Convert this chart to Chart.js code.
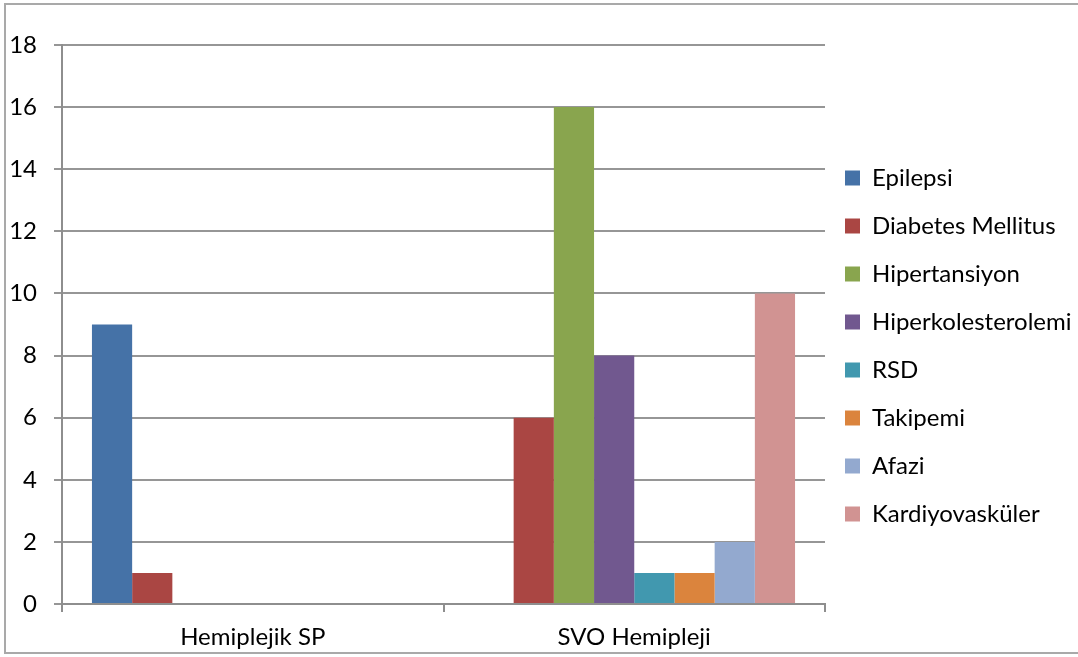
<!DOCTYPE html>
<html>
<head>
<meta charset="utf-8">
<script src="https://cdn.jsdelivr.net/npm/chart.js@4"></script>
<style>
  html, body { margin: 0; padding: 0; background: #fff; overflow: hidden; }
  #wrap { position: relative; width: 1078px; height: 657px; overflow: hidden; background: #fff; }
  #frame { position: absolute; left: 4px; top: 3px; width: 1074px; height: 651px;
           border: 2px solid #a9a9a9; border-right: none; box-sizing: border-box; }
  canvas { position: absolute; left: 0; top: 0; }
</style>
</head>
<body>
<div id="wrap">
  <div id="frame"></div>
  <canvas id="c" width="1078" height="657"></canvas>
</div>
<script>
// Patient groups on the x axis
const categories = ['Hemiplejik SP', 'SVO Hemipleji'];

// Number of patients with each comorbidity, per group
const epilepsi           = [9, 0];
const diabetesMellitus   = [1, 6];
const hipertansiyon      = [0, 16];
const hiperkolesterolemi = [0, 8];
const rsd                = [0, 1];
const takipemi           = [0, 1];
const afazi              = [0, 2];
const kardiyovaskuler    = [0, 10];

const seriesNames = ['Epilepsi', 'Diabetes Mellitus', 'Hipertansiyon', 'Hiperkolesterolemi',
                     'RSD', 'Takipemi', 'Afazi', 'Kardiyovasküler'];
const seriesValues = [epilepsi, diabetesMellitus, hipertansiyon, hiperkolesterolemi,
                      rsd, takipemi, afazi, kardiyovaskuler];
const seriesColors = ['#4572a7', '#aa4643', '#89a54e', '#71588f',
                      '#4198af', '#db843d', '#93a9cf', '#d19392'];

// Y axis range
const yMin = 0, yMax = 18, yStep = 2;

const FONT = 'Lato, "Open Sans", sans-serif';

// Places the legend column next to the plot
const legendPlacer = {
  id: 'legendPlacer',
  afterLayout(chart) {
    const lg = chart.legend;
    if (!lg) return;
    lg.left = chart.chartArea.right - 4;
    lg.right = chart.width;
    lg.top = 142;
    lg.bottom = chart.height;
  }
};

new Chart(document.getElementById('c'), {
  type: 'bar',
  data: {
    labels: categories,
    datasets: seriesNames.map((name, i) => ({
      label: name,
      data: seriesValues[i],
      backgroundColor: seriesColors[i],
      borderWidth: 0,
      categoryPercentage: 0.843,
      barPercentage: 1.0
    }))
  },
  options: {
    responsive: false,
    animation: false,
    layout: { padding: { top: 45, right: 0, bottom: 0, left: 0 } },
    plugins: {
      legend: {
        position: 'right',
        align: 'start',
        maxWidth: 253,
        labels: {
          boxWidth: 15,
          boxHeight: 15,
          padding: 24,
          color: '#000',
          font: { family: FONT, size: 24 }
        }
      },
      tooltip: { enabled: false }
    },
    scales: {
      x: {
        grid: {
          display: true,
          drawOnChartArea: false,
          drawTicks: true,
          tickLength: 8,
          color: '#8e8e8e',
          lineWidth: 2,
          offset: true
        },
        border: { display: true, color: '#8e8e8e', width: 2 },
        ticks: {
          color: '#000',
          padding: 11,
          font: { family: FONT, size: 24 }
        },
        afterFit(scale) { scale.height = 53; }
      },
      y: {
        min: yMin,
        max: yMax,
        grid: {
          color: '#969696',
          lineWidth: 2,
          tickLength: 8
        },
        border: { display: true, color: '#8e8e8e', width: 2 },
        ticks: {
          stepSize: yStep,
          color: '#000',
          padding: 17,
          font: { family: FONT, size: 24 }
        },
        afterFit(scale) { scale.width = 62; }
      }
    }
  },
  plugins: [legendPlacer]
});
</script>
</body>
</html>
